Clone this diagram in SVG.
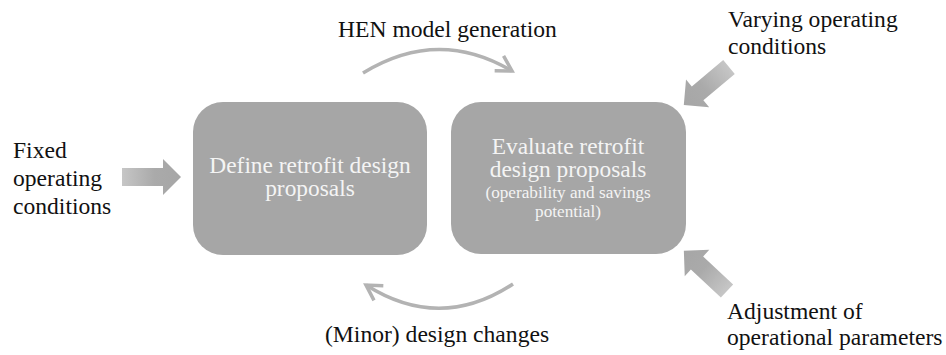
<svg xmlns="http://www.w3.org/2000/svg" width="946" height="355" viewBox="0 0 946 355">
<style>
.box{fill:#a6a6a6;}
.lbl{font-family:'Liberation Serif','Times New Roman',serif;font-size:23.6px;fill:#111;}
.in{font-family:'Liberation Serif','Times New Roman',serif;font-size:23.4px;fill:#f4f4f4;text-anchor:middle;}
.sm{font-size:17.2px;}
.arc{fill:none;stroke:#b3b3b3;stroke-width:3.5;marker-end:url(#chev);}
.blk{fill:url(#g);}
</style>
<defs>
<linearGradient id="g" x1="0" y1="0" x2="1" y2="0">
<stop offset="0" stop-color="#c6c6c6"/>
<stop offset="0.55" stop-color="#aaaaaa"/>
<stop offset="1" stop-color="#a6a6a6"/>
</linearGradient>
<marker id="chev" markerUnits="userSpaceOnUse" viewBox="-20 -12 24 24" refX="0" refY="0" markerWidth="24" markerHeight="24" orient="auto">
<path d="M-15,-8.7 L0,0 L-15,8.7" fill="none" stroke="#b3b3b3" stroke-width="3.5" stroke-linejoin="miter"/>
</marker>
<path id="ba" d="M0,-9 L41,-9 L41,-18 L59,0 L41,18 L41,9 L0,9 Z"/>
</defs>

<g id="connectors">
<path class="arc" d="M363,73 Q438,27 512,71"/>
<path class="arc" d="M513,284 Q440,332 366,285"/>
<use href="#ba" class="blk" transform="translate(122,177)"/>
<use href="#ba" class="blk" transform="translate(729,67) rotate(140)"/>
<use href="#ba" class="blk" transform="translate(727,291) rotate(-137)"/>
</g>

<g id="node-define">
<rect class="box" x="193" y="102" width="234" height="153" rx="30" ry="30"/>
<text class="in" x="310" y="173">Define retrofit design</text>
<text class="in" x="310" y="196">proposals</text>
</g>

<g id="node-evaluate">
<rect class="box" x="451" y="102" width="235" height="152" rx="30" ry="30"/>
<text class="in" x="568" y="154">Evaluate retrofit</text>
<text class="in" x="568" y="177">design proposals</text>
<text class="in sm" x="568" y="198">(operability and savings</text>
<text class="in sm" x="568" y="217">potential)</text>
</g>

<g id="label-fixed">
<text class="lbl" x="13" y="158">Fixed</text>
<text class="lbl" x="13" y="186">operating</text>
<text class="lbl" x="13" y="214">conditions</text>
</g>

<g id="label-hen">
<text class="lbl" x="338" y="37">HEN model generation</text>
</g>

<g id="label-minor">
<text class="lbl" x="325" y="342">(Minor) design changes</text>
</g>

<g id="label-varying">
<text class="lbl" x="728" y="27">Varying operating</text>
<text class="lbl" x="728" y="54">conditions</text>
</g>

<g id="label-adjust">
<text class="lbl" x="727" y="319">Adjustment of</text>
<text class="lbl" x="727" y="345">operational parameters</text>
</g>
</svg>
